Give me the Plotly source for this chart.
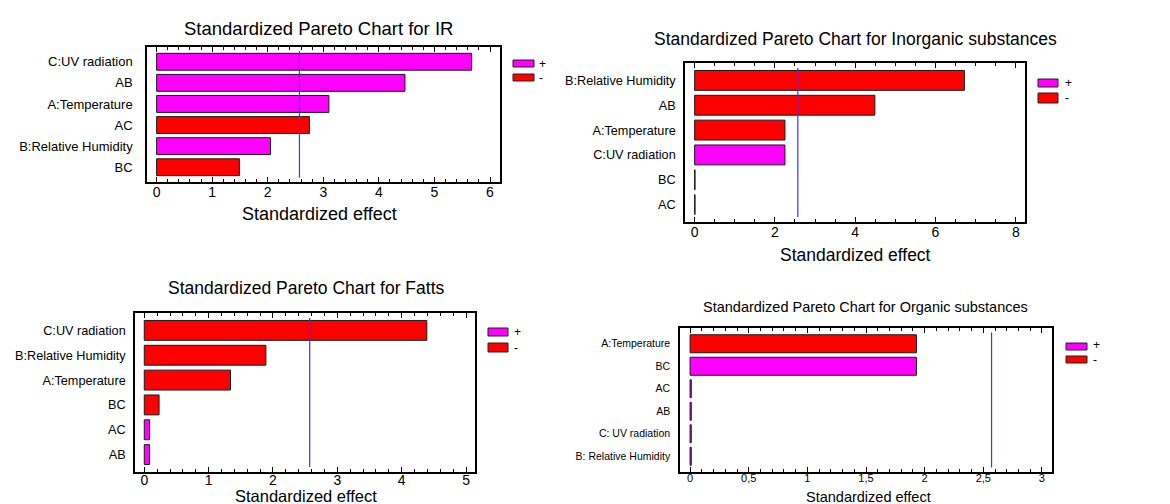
import plotly.graph_objects as go

W, H = 1170, 504

# ---------------- data ----------------
ir_terms = ["C:UV radiation", "AB", "A:Temperature", "AC", "B:Relative Humidity", "BC"]
ir_effects = [5.67, 4.47, 3.10, -2.75, 2.05, -1.49]

inorg_terms = ["B:Relative Humidity", "AB", "A:Temperature", "C:UV radiation", "BC", "AC"]
inorg_effects = [-6.72, -4.49, -2.25, 2.25, -0.01, -0.01]

fatts_terms = ["C:UV radiation", "B:Relative Humidity", "A:Temperature", "BC", "AC", "AB"]
fatts_effects = [-4.39, -1.89, -1.34, -0.23, 0.083, 0.083]

org_terms = ["A:Temperature", "BC", "AC", "AB", "C: UV radiation", "B: Relative Humidity"]
org_effects = [-1.93, 1.93, 0.01, 0.01, 0.01, 0.01]

t_critical = 2.5706
x_title = "Standardized effect"
legend_labels = ["+", "-"]
pos_color = "#FF00FF"
neg_color = "#FF0000"

ARIAL = "Liberation Sans, Arial, sans-serif"

panels = [
    dict(title="Standardized Pareto Chart for IR", terms=ir_terms, effects=ir_effects,
         box=(139, 492, 39, 174), xr=[-0.173, 6.18], dtick=1, minor=0.2,
         tsize=18.5, ysize=13, xtsize=14, atsize=18, ystand=10, xstand=-4,
         title_xy=(310, 21), atitle_xy=(311, 206),
         sw=(505, 526, 52, 59, 66, 73), sym_x=530, sym_y=(56, 70)),
    dict(title="Standardized Pareto Chart for Inorganic substances", terms=inorg_terms, effects=inorg_effects,
         box=(677, 1017, 55, 214), xr=[-0.24, 8.23], dtick=2, minor=0.5,
         tsize=17.5, ysize=12.7, xtsize=14, atsize=17.5, ystand=5, xstand=-4,
         title_xy=(847, 31), atitle_xy=(847, 247),
         sw=(1030, 1050, 71, 79, 85, 95), sym_x=1056, sym_y=(75, 90)),
    dict(title="Standardized Pareto Chart for Fatts", terms=fatts_terms, effects=fatts_effects,
         box=(127, 467, 305, 464), xr=[-0.144, 5.139], dtick=1, minor=0.2,
         tsize=17.5, ysize=12.7, xtsize=14, atsize=16.5, ystand=5, xstand=-6,
         title_xy=(298, 280), atitle_xy=(298, 488),
         sw=(480, 500, 320, 328, 335, 344), sym_x=505, sym_y=(324, 340)),
    dict(title="Standardized Pareto Chart for Organic substances", terms=org_terms, effects=org_effects,
         box=(672, 1044, 320, 464), xr=[-0.086, 3.086], dtick=0.5, minor=0.1,
         tsize=14.5, ysize=10.5, xtsize=11, atsize=14.5, ystand=6, xstand=-5,
         title_xy=(858, 299), atitle_xy=(860, 489),
         sw=(1058, 1079, 335, 342, 348, 355), sym_x=1084, sym_y=(337, 352)),
]


def px(x):
    return x / W


def py(y):
    return 1 - y / H


fig = go.Figure()
layout = dict(width=W, height=H, margin=dict(l=0, r=0, t=0, b=0),
              paper_bgcolor="white", plot_bgcolor="white", showlegend=False,
              separators=", ", bargap=0.2)
shapes = []
annotations = []

for i, p in enumerate(panels):
    n = "" if i == 0 else str(i + 1)
    xa, ya = "x" + n, "y" + n
    vals = [abs(v) for v in p["effects"]]
    cols = [pos_color if v > 0 else neg_color for v in p["effects"]]
    fig.add_trace(go.Bar(
        x=vals, y=p["terms"], orientation="h", xaxis=xa, yaxis=ya,
        marker=dict(color=cols, line=dict(color="#1a1a1a", width=1)),
        width=0.8, hoverinfo="x+y"))
    x0, x1, y0, y1 = p["box"]
    layout["xaxis" + n] = dict(
        domain=[px(x0), px(x1)], anchor=ya, range=p["xr"], dtick=p["dtick"], tick0=0,
        showgrid=False, zeroline=False, showline=True, linecolor="black", linewidth=1.5,
        mirror="ticks", ticks="inside", ticklen=5, tickcolor="black", tickwidth=1,
        ticklabelstandoff=p["xstand"],
        minor=dict(ticks="inside", dtick=p["minor"], ticklen=3, tickcolor="black", tickwidth=1),
        tickfont=dict(family=ARIAL, size=p["xtsize"], color="black"))
    layout["yaxis" + n] = dict(
        domain=[py(y1), py(y0)], anchor=xa, type="category",
        categoryorder="array", categoryarray=p["terms"], range=[5.7, -0.7],
        showgrid=False, zeroline=False, showline=True, linecolor="black", linewidth=1.5,
        mirror=True, ticks="", ticklabelstandoff=p["ystand"],
        tickfont=dict(family=ARIAL, size=p["ysize"], color="black"))
    # critical value line
    shapes.append(dict(type="line", xref=xa, yref=ya, x0=t_critical, x1=t_critical,
                       y0=-0.5, y1=5.5, line=dict(color="#3535ff", width=1.2)))
    # titles
    tx, ty = p["title_xy"]
    annotations.append(dict(text=p["title"], x=px(tx), y=py(ty), xref="paper", yref="paper",
                            xanchor="center", yanchor="middle", showarrow=False,
                            font=dict(family=ARIAL, size=p["tsize"], color="black")))
    ax_, ay_ = p["atitle_xy"]
    annotations.append(dict(text=x_title, x=px(ax_), y=py(ay_), xref="paper", yref="paper",
                            xanchor="center", yanchor="middle", showarrow=False, borderpad=0,
                            font=dict(family=ARIAL, size=p["atsize"], color="black")))
    # legend swatches
    sx0, sx1, py0, py1, ny0, ny1 = p["sw"]
    for (a, b), col in zip([(py0, py1), (ny0, ny1)], [pos_color, neg_color]):
        shapes.append(dict(type="rect", xref="paper", yref="paper",
                           x0=px(sx0), x1=px(sx1), y0=py(b), y1=py(a),
                           fillcolor=col, line=dict(color="#222222", width=1)))
    for lab, yy in zip(legend_labels, p["sym_y"]):
        annotations.append(dict(text=lab, x=px(p["sym_x"]), y=py(yy), xref="paper", yref="paper",
                                xanchor="left", yanchor="middle", showarrow=False, borderpad=0,
                                font=dict(family=ARIAL, size=12, color="black")))

layout["shapes"] = shapes
layout["annotations"] = annotations
fig.update_layout(**layout)
fig.write_html("out.html")
